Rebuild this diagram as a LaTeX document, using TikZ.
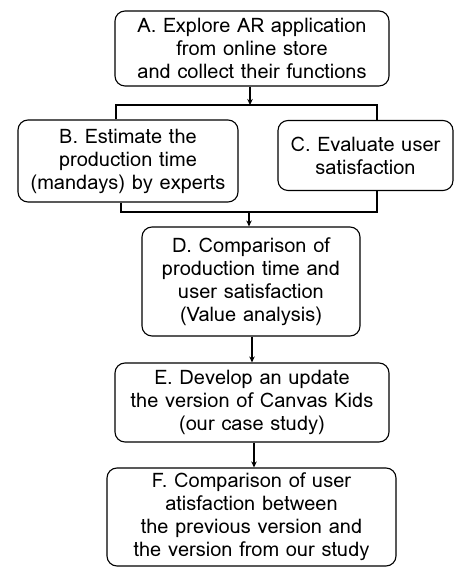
\documentclass[tikz,border=0pt]{standalone}
\usepackage{fontspec}
\setmainfont{Loma}
\usetikzlibrary{arrows.meta}
\begin{document}
\begin{tikzpicture}[x=1pt,y=1pt,
  stepbox/.style={draw, line width=1.1pt, rounded corners=10pt, align=center,
    inner sep=0pt, font=\fontsize{20}{23}\selectfont},
  conn/.style={line width=1.1pt},
  arr/.style={conn, -{Stealth[length=6pt,width=5.5pt]}}]
\useasboundingbox (0,0) rectangle (454,567);
\node[stepbox, minimum width=274pt, minimum height=75pt] (A) at (252,518.5)
  {A. Explore AR application\\from online store\\and collect their functions};
\node[stepbox, minimum width=220pt, minimum height=82pt] (B) at (128,406)
  {B. Estimate the\\production time\\(mandays) by experts};
\node[stepbox, minimum width=175pt, minimum height=70pt] (C) at (365.5,411.5)
  {C. Evaluate user\\satisfaction};
\node[stepbox, minimum width=218pt, minimum height=109pt] (D) at (251,285.5)
  {D. Comparison of\\production time and\\user satisfaction\\(Value analysis)};
\node[stepbox, minimum width=274pt, minimum height=79pt] (E) at (252,164.5)
  {E. Develop an update\\the version of Canvas Kids\\(our case study)};
\node[stepbox, minimum width=289pt, minimum height=98pt] (F) at (251.5,50)
  {F. Comparison of user\\atisfaction between\\the previous version and\\the version from our study};
\coordinate (j1) at (250,462);
\coordinate (j1l) at (116,462);
\coordinate (j1r) at (377,462);
\coordinate (j2) at (249,355);
\coordinate (j2l) at (121,355);
\coordinate (j2r) at (377,355);
\draw[arr] (A.south -| j1) -- (j1);
\draw[conn] (j1l |- B.north) -- (j1l) -- (j1r) -- (j1r |- C.north);
\draw[conn] (j2l |- B.south) -- (j2l) -- (j2r) -- (j2r |- C.south);
\draw[arr] (j2) -- (j2 |- D.north);
\draw[arr] (D.south -| 252,0) -- (252,0 |- E.north);
\draw[arr] (E.south -| 254,0) -- (254,0 |- F.north);
\end{tikzpicture}
\end{document}
